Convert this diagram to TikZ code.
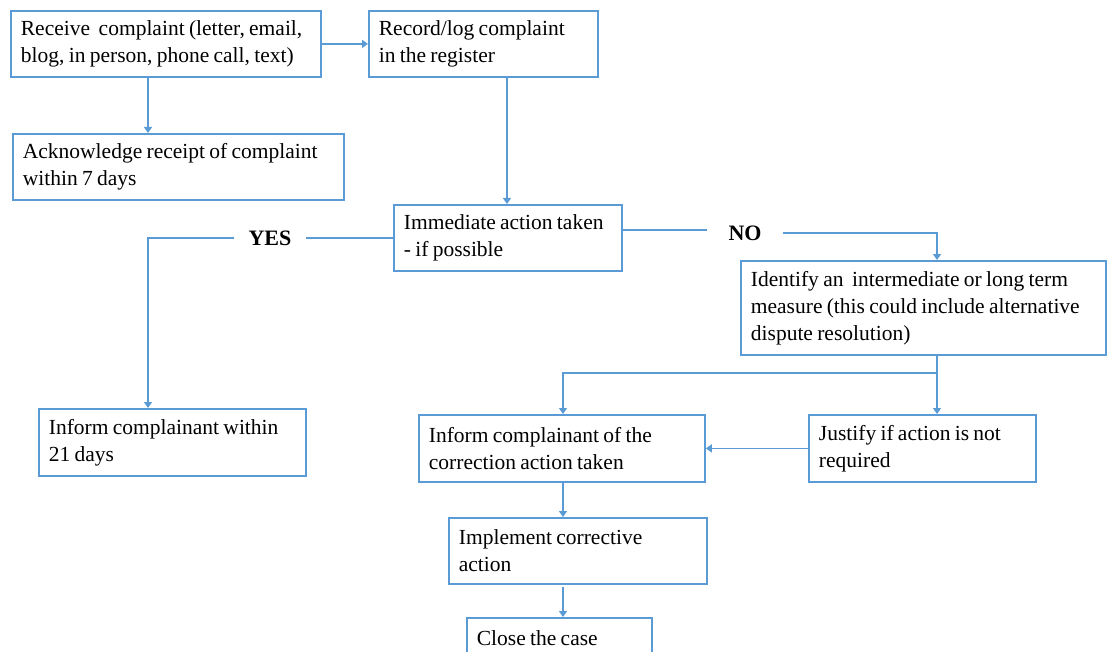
\documentclass[tikz,border=0pt]{standalone}
\usepackage{fontspec}
\setmainfont{Liberation Serif}
\usetikzlibrary{arrows.meta}
\definecolor{lineblue}{RGB}{91,155,213}
\protected\def\boxfont{\fontsize{21.5}{27}\selectfont\spaceskip=0.2em plus 0.05em\relax}
\tikzset{
  flowbox/.style={draw=lineblue, line width=1.8pt, rectangle, anchor=north west, align=flush left,
    inner xsep=10pt, inner ysep=0pt, font=\boxfont},
  flow/.style={draw=lineblue, line width=1.8pt, -{Triangle[length=6pt,width=8pt]}},
  link/.style={draw=lineblue, line width=1.8pt},
  answer/.style={font=\fontsize{22}{26}\selectfont\bfseries, inner ysep=0pt}
}
\begin{document}
\begin{tikzpicture}[x=1pt,y=-1pt]
    \useasboundingbox (0,0) rectangle (1107,652);
    \node[flowbox, text width=290pt, minimum height=66pt] (receive) at (10,10) {Receive\ \ complaint (letter, email,\\blog, in person, phone call, text)};
    \node[flowbox, text width=209pt, minimum height=66pt] (record) at (368,10) {Record/log complaint\\in the register};
    \node[flowbox, text width=311pt, minimum height=66pt] (ack) at (12,133) {Acknowledge receipt of complaint\\within 7 days};
    \node[flowbox, text width=208pt, minimum height=66pt] (immediate) at (393,204) {Immediate action taken\\- if possible};
    \node[flowbox, text width=247pt, minimum height=67pt] (inform21) at (38,408) {Inform complainant within\\21 days};
    \node[flowbox, text width=345pt, minimum height=94pt] (identify) at (740,260) {Identify an\ \ intermediate or long term\\measure (this could include alternative\\dispute resolution)};
    \node[flowbox, text width=266pt, minimum height=67pt] (infocorr) at (418,414) {Inform complainant of the\\correction action taken};
    \node[flowbox, text width=207pt, minimum height=67pt] (justify) at (808,414) {Justify if action is not\\required};
    \node[flowbox, text width=238pt, minimum height=66pt] (implement) at (448,517) {Implement corrective\\action};
    \node[flowbox, text width=165pt, minimum height=40pt] (close) at (466,617) {Close the case};
    \node[answer, inner xsep=14pt] (yes) at (270,238) {YES};
    \node[answer, inner xsep=21pt] (no) at (745,233) {NO};
    \coordinate (split) at (937,373);
    \coordinate (gap) at (563,587);
    \draw[flow] (receive) -- (record);
    \draw[flow] (receive.south -| 148,0) -- (ack.north -| 148,0);
    \draw[flow] (record.south -| 507,0) -- (immediate.north -| 507,0);
    \draw[link] (yes.east -| immediate.west) -- (yes.east);
    \draw[flow] (yes.west) -| (inform21.north -| 148,0);
    \draw[link] (immediate.east |- 0,230) -- (no.west |- 0,230);
    \draw[flow] (no.east) -| (identify.north -| split);
    \draw[flow] (identify.south -| split) -- (justify.north -| split);
    \draw[flow, line width=1.4pt] (split) -| (infocorr.north -| gap);
    \draw[flow] (justify) -- (infocorr);
    \draw[flow] (infocorr.south -| gap) -- (implement.north -| gap);
    \draw[flow] (gap) -- (close.north -| gap);
\end{tikzpicture}
\end{document}
